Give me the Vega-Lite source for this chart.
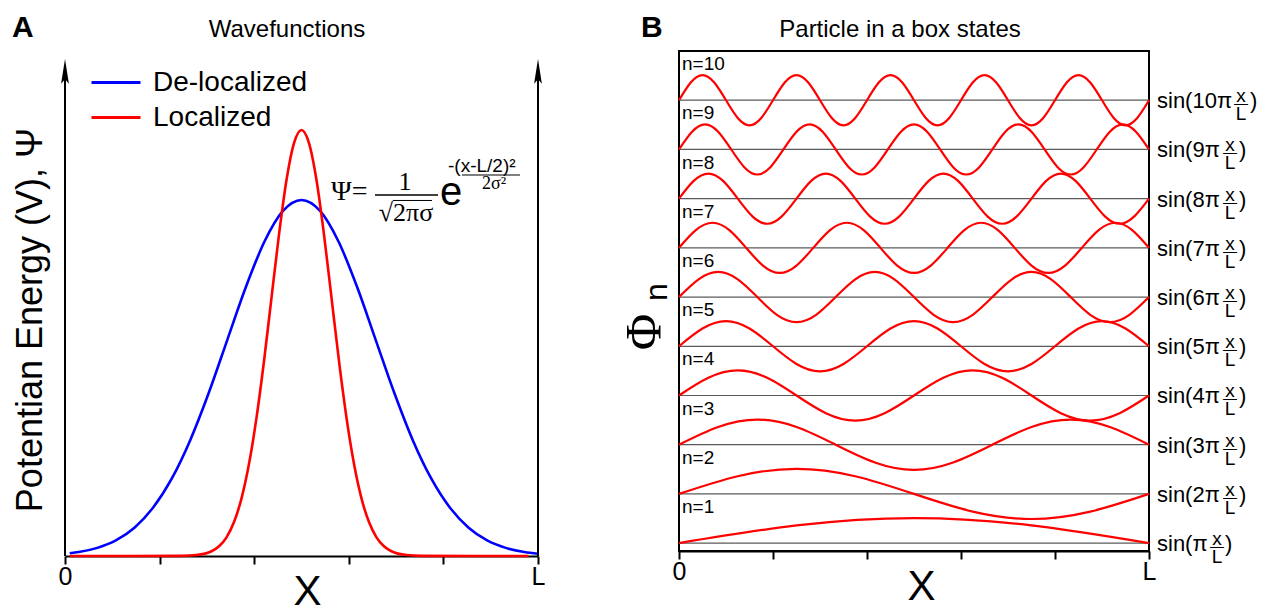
{
"$schema": "https://vega.github.io/schema/vega-lite/v6.json",
"background": "white",
"padding": {"left": 12, "top": 11, "right": 0, "bottom": 0},
"autosize": {"type": "pad"},
"config": {
  "view": {"stroke": null},
  "font": "Liberation Sans",
  "axis": {"grid": false, "domainColor": "black", "tickColor": "black", "labelColor": "black", "titleColor": "black", "labelFont": "Liberation Sans", "titleFont": "Liberation Sans"},
  "text": {"font": "Liberation Sans", "color": "black"}
},
"datasets": {
  "gauss": [
    {"s":"De-localized","x":0.01,"y":0.0054},{"s":"De-localized","x":0.029,"y":0.0078},{"s":"De-localized","x":0.0683,"y":0.0161},{"s":"De-localized","x":0.1075,"y":0.0309},{"s":"De-localized","x":0.1468,"y":0.0561},{"s":"De-localized","x":0.186,"y":0.0954},{"s":"De-localized","x":0.2253,"y":0.1525},{"s":"De-localized","x":0.2645,"y":0.2289},{"s":"De-localized","x":0.3038,"y":0.3227},{"s":"De-localized","x":0.343,"y":0.4276},{"s":"De-localized","x":0.3822,"y":0.5321},{"s":"De-localized","x":0.4215,"y":0.6222},{"s":"De-localized","x":0.4608,"y":0.6833},{"s":"De-localized","x":0.5,"y":0.705},{"s":"De-localized","x":0.5393,"y":0.6833},{"s":"De-localized","x":0.5785,"y":0.6222},{"s":"De-localized","x":0.6178,"y":0.5321},{"s":"De-localized","x":0.657,"y":0.4276},{"s":"De-localized","x":0.6963,"y":0.3227},{"s":"De-localized","x":0.7355,"y":0.2289},{"s":"De-localized","x":0.7748,"y":0.1525},{"s":"De-localized","x":0.814,"y":0.0954},{"s":"De-localized","x":0.8533,"y":0.0561},{"s":"De-localized","x":0.8925,"y":0.0309},{"s":"De-localized","x":0.9318,"y":0.0161},{"s":"De-localized","x":0.971,"y":0.0078},{"s":"De-localized","x":1,"y":0.0044},
    {"s":"Localized","x":0.01,"y":0},{"s":"Localized","x":0.2464,"y":0.0003},{"s":"Localized","x":0.2781,"y":0.0019},{"s":"Localized","x":0.3098,"y":0.0094},{"s":"Localized","x":0.32565,"y":0.0192},{"s":"Localized","x":0.3415,"y":0.037},{"s":"Localized","x":0.35735,"y":0.0672},{"s":"Localized","x":0.3732,"y":0.1141},{"s":"Localized","x":0.38905,"y":0.1825},{"s":"Localized","x":0.4049,"y":0.2739},{"s":"Localized","x":0.42075,"y":0.3862},{"s":"Localized","x":0.4366,"y":0.5117},{"s":"Localized","x":0.45245,"y":0.6367},{"s":"Localized","x":0.4683,"y":0.7445},{"s":"Localized","x":0.48415,"y":0.8176},{"s":"Localized","x":0.5,"y":0.8436},{"s":"Localized","x":0.51585,"y":0.8176},{"s":"Localized","x":0.5317,"y":0.7445},{"s":"Localized","x":0.54755,"y":0.6367},{"s":"Localized","x":0.5634,"y":0.5117},{"s":"Localized","x":0.57925,"y":0.3862},{"s":"Localized","x":0.5951,"y":0.2739},{"s":"Localized","x":0.61095,"y":0.1825},{"s":"Localized","x":0.6268,"y":0.1141},{"s":"Localized","x":0.64265,"y":0.0672},{"s":"Localized","x":0.6585,"y":0.037},{"s":"Localized","x":0.67435,"y":0.0192},{"s":"Localized","x":0.6902,"y":0.0094},{"s":"Localized","x":0.7219,"y":0.0019},{"s":"Localized","x":0.7536,"y":0.0003},{"s":"Localized","x":0.98,"y":0}
  ],
  "labs": [
    {"n":10,"lab":"n=10","s":"sin(10π"},{"n":9,"lab":"n=9","s":"sin(9π"},{"n":8,"lab":"n=8","s":"sin(8π"},{"n":7,"lab":"n=7","s":"sin(7π"},{"n":6,"lab":"n=6","s":"sin(6π"},{"n":5,"lab":"n=5","s":"sin(5π"},{"n":4,"lab":"n=4","s":"sin(4π"},{"n":3,"lab":"n=3","s":"sin(3π"},{"n":2,"lab":"n=2","s":"sin(2π"},{"n":1,"lab":"n=1","s":"sin(π"}
  ],
  "waves": [
    {"n":1,"x":0,"y":1},{"n":1,"x":0.25,"y":1.36},{"n":1,"x":0.5,"y":1.51},{"n":1,"x":0.75,"y":1.36},{"n":1,"x":1,"y":1},
    {"n":2,"x":0,"y":2},{"n":2,"x":0.125,"y":2.36},{"n":2,"x":0.25,"y":2.51},{"n":2,"x":0.375,"y":2.36},{"n":2,"x":0.5,"y":2},{"n":2,"x":0.625,"y":1.64},{"n":2,"x":0.75,"y":1.49},{"n":2,"x":0.875,"y":1.64},{"n":2,"x":1,"y":2},
    {"n":3,"x":0,"y":3},{"n":3,"x":0.0833,"y":3.36},{"n":3,"x":0.1667,"y":3.51},{"n":3,"x":0.25,"y":3.36},{"n":3,"x":0.3333,"y":3},{"n":3,"x":0.4167,"y":2.64},{"n":3,"x":0.5,"y":2.49},{"n":3,"x":0.5833,"y":2.64},{"n":3,"x":0.6667,"y":3},{"n":3,"x":0.75,"y":3.36},{"n":3,"x":0.8333,"y":3.51},{"n":3,"x":0.9167,"y":3.36},{"n":3,"x":1,"y":3},
    {"n":4,"x":0,"y":4},{"n":4,"x":0.0625,"y":4.36},{"n":4,"x":0.125,"y":4.51},{"n":4,"x":0.1875,"y":4.36},{"n":4,"x":0.25,"y":4},{"n":4,"x":0.3125,"y":3.64},{"n":4,"x":0.375,"y":3.49},{"n":4,"x":0.4375,"y":3.64},{"n":4,"x":0.5,"y":4},{"n":4,"x":0.5625,"y":4.36},{"n":4,"x":0.625,"y":4.51},{"n":4,"x":0.6875,"y":4.36},{"n":4,"x":0.75,"y":4},{"n":4,"x":0.8125,"y":3.64},{"n":4,"x":0.875,"y":3.49},{"n":4,"x":0.9375,"y":3.64},{"n":4,"x":1,"y":4},
    {"n":5,"x":0,"y":5},{"n":5,"x":0.05,"y":5.36},{"n":5,"x":0.1,"y":5.51},{"n":5,"x":0.15,"y":5.36},{"n":5,"x":0.2,"y":5},{"n":5,"x":0.25,"y":4.64},{"n":5,"x":0.3,"y":4.49},{"n":5,"x":0.35,"y":4.64},{"n":5,"x":0.4,"y":5},{"n":5,"x":0.45,"y":5.36},{"n":5,"x":0.5,"y":5.51},{"n":5,"x":0.55,"y":5.36},{"n":5,"x":0.6,"y":5},{"n":5,"x":0.65,"y":4.64},{"n":5,"x":0.7,"y":4.49},{"n":5,"x":0.75,"y":4.64},{"n":5,"x":0.8,"y":5},{"n":5,"x":0.85,"y":5.36},{"n":5,"x":0.9,"y":5.51},{"n":5,"x":0.95,"y":5.36},{"n":5,"x":1,"y":5},
    {"n":6,"x":0,"y":6},{"n":6,"x":0.0417,"y":6.36},{"n":6,"x":0.0833,"y":6.51},{"n":6,"x":0.125,"y":6.36},{"n":6,"x":0.1667,"y":6},{"n":6,"x":0.2083,"y":5.64},{"n":6,"x":0.25,"y":5.49},{"n":6,"x":0.2917,"y":5.64},{"n":6,"x":0.3333,"y":6},{"n":6,"x":0.375,"y":6.36},{"n":6,"x":0.4167,"y":6.51},{"n":6,"x":0.4583,"y":6.36},{"n":6,"x":0.5,"y":6},{"n":6,"x":0.5417,"y":5.64},{"n":6,"x":0.5833,"y":5.49},{"n":6,"x":0.625,"y":5.64},{"n":6,"x":0.6667,"y":6},{"n":6,"x":0.7083,"y":6.36},{"n":6,"x":0.75,"y":6.51},{"n":6,"x":0.7917,"y":6.36},{"n":6,"x":0.8333,"y":6},{"n":6,"x":0.875,"y":5.64},{"n":6,"x":0.9167,"y":5.49},{"n":6,"x":0.9583,"y":5.64},{"n":6,"x":1,"y":6},
    {"n":7,"x":0,"y":7},{"n":7,"x":0.0357,"y":7.36},{"n":7,"x":0.0714,"y":7.51},{"n":7,"x":0.1071,"y":7.36},{"n":7,"x":0.1429,"y":7},{"n":7,"x":0.1786,"y":6.64},{"n":7,"x":0.2143,"y":6.49},{"n":7,"x":0.25,"y":6.64},{"n":7,"x":0.2857,"y":7},{"n":7,"x":0.3214,"y":7.36},{"n":7,"x":0.3571,"y":7.51},{"n":7,"x":0.3929,"y":7.36},{"n":7,"x":0.4286,"y":7},{"n":7,"x":0.4643,"y":6.64},{"n":7,"x":0.5,"y":6.49},{"n":7,"x":0.5357,"y":6.64},{"n":7,"x":0.5714,"y":7},{"n":7,"x":0.6071,"y":7.36},{"n":7,"x":0.6429,"y":7.51},{"n":7,"x":0.6786,"y":7.36},{"n":7,"x":0.7143,"y":7},{"n":7,"x":0.75,"y":6.64},{"n":7,"x":0.7857,"y":6.49},{"n":7,"x":0.8214,"y":6.64},{"n":7,"x":0.8571,"y":7},{"n":7,"x":0.8929,"y":7.36},{"n":7,"x":0.9286,"y":7.51},{"n":7,"x":0.9643,"y":7.36},{"n":7,"x":1,"y":7},
    {"n":8,"x":0,"y":8},{"n":8,"x":0.03125,"y":8.36},{"n":8,"x":0.0625,"y":8.51},{"n":8,"x":0.09375,"y":8.36},{"n":8,"x":0.125,"y":8},{"n":8,"x":0.15625,"y":7.64},{"n":8,"x":0.1875,"y":7.49},{"n":8,"x":0.21875,"y":7.64},{"n":8,"x":0.25,"y":8},{"n":8,"x":0.28125,"y":8.36},{"n":8,"x":0.3125,"y":8.51},{"n":8,"x":0.34375,"y":8.36},{"n":8,"x":0.375,"y":8},{"n":8,"x":0.40625,"y":7.64},{"n":8,"x":0.4375,"y":7.49},{"n":8,"x":0.46875,"y":7.64},{"n":8,"x":0.5,"y":8},{"n":8,"x":0.53125,"y":8.36},{"n":8,"x":0.5625,"y":8.51},{"n":8,"x":0.59375,"y":8.36},{"n":8,"x":0.625,"y":8},{"n":8,"x":0.65625,"y":7.64},{"n":8,"x":0.6875,"y":7.49},{"n":8,"x":0.71875,"y":7.64},{"n":8,"x":0.75,"y":8},{"n":8,"x":0.78125,"y":8.36},{"n":8,"x":0.8125,"y":8.51},{"n":8,"x":0.84375,"y":8.36},{"n":8,"x":0.875,"y":8},{"n":8,"x":0.90625,"y":7.64},{"n":8,"x":0.9375,"y":7.49},{"n":8,"x":0.96875,"y":7.64},{"n":8,"x":1,"y":8},
    {"n":9,"x":0,"y":9},{"n":9,"x":0.0278,"y":9.36},{"n":9,"x":0.0556,"y":9.51},{"n":9,"x":0.0833,"y":9.36},{"n":9,"x":0.1111,"y":9},{"n":9,"x":0.1389,"y":8.64},{"n":9,"x":0.1667,"y":8.49},{"n":9,"x":0.1944,"y":8.64},{"n":9,"x":0.2222,"y":9},{"n":9,"x":0.25,"y":9.36},{"n":9,"x":0.2778,"y":9.51},{"n":9,"x":0.3056,"y":9.36},{"n":9,"x":0.3333,"y":9},{"n":9,"x":0.3611,"y":8.64},{"n":9,"x":0.3889,"y":8.49},{"n":9,"x":0.4167,"y":8.64},{"n":9,"x":0.4444,"y":9},{"n":9,"x":0.4722,"y":9.36},{"n":9,"x":0.5,"y":9.51},{"n":9,"x":0.5278,"y":9.36},{"n":9,"x":0.5556,"y":9},{"n":9,"x":0.5833,"y":8.64},{"n":9,"x":0.6111,"y":8.49},{"n":9,"x":0.6389,"y":8.64},{"n":9,"x":0.6667,"y":9},{"n":9,"x":0.6944,"y":9.36},{"n":9,"x":0.7222,"y":9.51},{"n":9,"x":0.75,"y":9.36},{"n":9,"x":0.7778,"y":9},{"n":9,"x":0.8056,"y":8.64},{"n":9,"x":0.8333,"y":8.49},{"n":9,"x":0.8611,"y":8.64},{"n":9,"x":0.8889,"y":9},{"n":9,"x":0.9167,"y":9.36},{"n":9,"x":0.9444,"y":9.51},{"n":9,"x":0.9722,"y":9.36},{"n":9,"x":1,"y":9},
    {"n":10,"x":0,"y":10},{"n":10,"x":0.025,"y":10.36},{"n":10,"x":0.05,"y":10.51},{"n":10,"x":0.075,"y":10.36},{"n":10,"x":0.1,"y":10},{"n":10,"x":0.125,"y":9.64},{"n":10,"x":0.15,"y":9.49},{"n":10,"x":0.175,"y":9.64},{"n":10,"x":0.2,"y":10},{"n":10,"x":0.225,"y":10.36},{"n":10,"x":0.25,"y":10.51},{"n":10,"x":0.275,"y":10.36},{"n":10,"x":0.3,"y":10},{"n":10,"x":0.325,"y":9.64},{"n":10,"x":0.35,"y":9.49},{"n":10,"x":0.375,"y":9.64},{"n":10,"x":0.4,"y":10},{"n":10,"x":0.425,"y":10.36},{"n":10,"x":0.45,"y":10.51},{"n":10,"x":0.475,"y":10.36},{"n":10,"x":0.5,"y":10},{"n":10,"x":0.525,"y":9.64},{"n":10,"x":0.55,"y":9.49},{"n":10,"x":0.575,"y":9.64},{"n":10,"x":0.6,"y":10},{"n":10,"x":0.625,"y":10.36},{"n":10,"x":0.65,"y":10.51},{"n":10,"x":0.675,"y":10.36},{"n":10,"x":0.7,"y":10},{"n":10,"x":0.725,"y":9.64},{"n":10,"x":0.75,"y":9.49},{"n":10,"x":0.775,"y":9.64},{"n":10,"x":0.8,"y":10},{"n":10,"x":0.825,"y":10.36},{"n":10,"x":0.85,"y":10.51},{"n":10,"x":0.875,"y":10.36},{"n":10,"x":0.9,"y":10},{"n":10,"x":0.925,"y":9.64},{"n":10,"x":0.95,"y":9.49},{"n":10,"x":0.975,"y":9.64},{"n":10,"x":1,"y":10}
  ]
},
"bounds": "flush",
"spacing": 141,
"hconcat": [
  {
    "width": 473,
    "height": 505,
    "resolve": {"axis": {"x": "independent", "y": "independent"}},
    "layer": [
      {
        "data": {"name": "gauss"},
        "mark": {"type": "line", "interpolate": "monotone", "strokeWidth": 2.6},
        "encoding": {
          "x": {"field": "x", "type": "quantitative", "scale": {"domain": [0, 1], "nice": false, "zero": false},
                "axis": {"orient": "bottom", "values": [0, 0.2, 0.4, 0.6, 0.8, 1], "labelExpr": "datum.value == 0 ? '0' : datum.value == 1 ? 'L' : ''", "labelOverlap": false, "labelFlush": false, "domainWidth": 2, "tickWidth": 2, "tickSize": 8, "labelFontSize": 25, "labelPadding": 0, "title": "X", "titleFontSize": 42, "titleFontWeight": "normal", "titlePadding": -18, "titleX": 242}},
          "y": {"field": "y", "type": "quantitative", "scale": {"domain": [0, 1], "nice": false, "zero": false}, "axis": null},
          "color": {"field": "s", "type": "nominal", "scale": {"domain": ["De-localized", "Localized"], "range": ["#0000ff", "#ff0000"]},
                    "legend": {"title": null, "orient": "none", "legendX": 25, "legendY": 14, "padding": 0, "labelFont": "Liberation Sans", "labelFontSize": 28, "labelColor": "black", "symbolType": "M-1,0L1,0", "symbolSize": 2401, "symbolStrokeWidth": 3, "symbolFillColor": "transparent", "rowPadding": 0, "clipHeight": 35, "labelOffset": 11}}
        }
      },
      {
        "data": {"values": [{"e": 0}, {"e": 1}]},
        "mark": {"type": "rule", "color": "black", "strokeWidth": 2},
        "encoding": {
          "x": {"field": "e", "type": "quantitative", "axis": null},
          "y": {"datum": 0, "axis": null},
          "y2": {"datum": 0.955}
        }
      },
      {
        "data": {"values": [{"e": 0}, {"e": 1}]},
        "mark": {"type": "point", "shape": "M0,-1L0.3,0.9L0,0.55L-0.3,0.9Z", "size": 676, "filled": true, "color": "black", "opacity": 1},
        "encoding": {
          "x": {"field": "e", "type": "quantitative", "axis": null},
          "y": {"datum": 0.9584, "axis": null}
        }
      },
      {
        "data": {"values": [{}]},
        "mark": {"type": "text", "text": "Wavefunctions", "fontSize": 24, "align": "center", "baseline": "alphabetic"},
        "encoding": {"x": {"datum": 0.4693, "axis": null}, "y": {"datum": 1.0277, "axis": null}}
      },
      {
        "data": {"values": [{}]},
        "mark": {"type": "text", "text": "A", "fontSize": 30, "fontWeight": "bold", "align": "left", "baseline": "alphabetic"},
        "encoding": {"x": {"datum": -0.112, "axis": null}, "y": {"datum": 1.0277, "axis": null}}
      },
      {
        "data": {"values": [{}]},
        "mark": {"type": "text", "text": "Potentian Energy (V), Ψ", "fontSize": 36, "angle": 270, "align": "center", "baseline": "middle"},
        "encoding": {"x": {"datum": -0.0719, "axis": null}, "y": {"datum": 0.4673, "axis": null}}
      },
      {
        "data": {"values": [{}]},
        "mark": {"type": "text", "text": "Ψ=", "font": "Liberation Serif", "fontSize": 28, "align": "left", "baseline": "alphabetic"},
        "encoding": {"x": {"datum": 0.5624, "axis": null}, "y": {"datum": 0.705, "axis": null}}
      },
      {
        "data": {"values": [{}]},
        "mark": {"type": "text", "text": "1", "font": "Liberation Serif", "fontSize": 26, "align": "center", "baseline": "alphabetic"},
        "encoding": {"x": {"datum": 0.7188, "axis": null}, "y": {"datum": 0.7248, "axis": null}}
      },
      {
        "data": {"values": [{}]},
        "mark": {"type": "rule", "color": "black", "strokeWidth": 1.5},
        "encoding": {"x": {"datum": 0.6554, "axis": null}, "x2": {"datum": 0.7886}, "y": {"datum": 0.7149, "axis": null}}
      },
      {
        "data": {"values": [{}]},
        "mark": {"type": "text", "text": "√2πσ", "font": "Liberation Serif", "fontSize": 26, "align": "center", "baseline": "alphabetic"},
        "encoding": {"x": {"datum": 0.721, "axis": null}, "y": {"datum": 0.663, "axis": null}}
      },
      {
        "data": {"values": [{}]},
        "mark": {"type": "rule", "color": "black", "strokeWidth": 1},
        "encoding": {"x": {"datum": 0.6934, "axis": null}, "x2": {"datum": 0.7759}, "y": {"datum": 0.704, "axis": null}}
      },
      {
        "data": {"values": [{}]},
        "mark": {"type": "text", "text": "e", "fontSize": 40, "align": "left", "baseline": "alphabetic"},
        "encoding": {"x": {"datum": 0.7928, "axis": null}, "y": {"datum": 0.695, "axis": null}}
      },
      {
        "data": {"values": [{}]},
        "mark": {"type": "text", "text": "-(x-L/2)²", "fontSize": 19, "align": "left", "baseline": "alphabetic"},
        "encoding": {"x": {"datum": 0.8097, "axis": null}, "y": {"datum": 0.7604, "axis": null}}
      },
      {
        "data": {"values": [{}]},
        "mark": {"type": "rule", "color": "black", "strokeWidth": 1.2},
        "encoding": {"x": {"datum": 0.8393, "axis": null}, "x2": {"datum": 0.9619}, "y": {"datum": 0.7545, "axis": null}}
      },
      {
        "data": {"values": [{}]},
        "mark": {"type": "text", "text": "2σ²", "font": "Liberation Serif", "fontSize": 18, "align": "center", "baseline": "alphabetic"},
        "encoding": {"x": {"datum": 0.907, "axis": null}, "y": {"datum": 0.7267, "axis": null}}
      }
    ]
  },
  {
    "width": 470,
    "height": 500,
    "view": {"stroke": "black", "strokeWidth": 2},
    "resolve": {"axis": {"x": "independent", "y": "independent"}},
    "layer": [
      {
        "data": {"name": "waves"},
        "mark": {"type": "line", "interpolate": "natural", "color": "#ff0000", "strokeWidth": 2.2, "opacity": 0},
        "encoding": {
          "x": {"field": "x", "type": "quantitative", "scale": {"domain": [0, 1], "nice": false, "zero": false},
                "axis": {"orient": "bottom", "values": [0, 0.2, 0.4, 0.6, 0.8, 1], "labelExpr": "datum.value == 0 ? '0' : datum.value == 1 ? 'L' : ''", "labelOverlap": false, "labelFlush": false, "domainWidth": 2, "tickWidth": 2, "tickSize": 8, "labelFontSize": 25, "labelPadding": 0, "title": "X", "titleFontSize": 42, "titleFontWeight": "normal", "titlePadding": -18, "titleX": 242}},
          "y": {"field": "y", "type": "quantitative", "scale": {"domain": [0.84, 11], "nice": false, "zero": false}, "axis": null},
          "detail": {"field": "n", "type": "nominal"}
        }
      },
      {
        "data": {"name": "labs"},
        "mark": {"type": "rule", "color": "#5a5a5a", "strokeWidth": 1.2},
        "encoding": {
          "y": {"field": "n", "type": "quantitative", "axis": null},
          "x": {"datum": 0, "axis": null},
          "x2": {"datum": 1}
        }
      },
      {
        "data": {"name": "waves"},
        "mark": {"type": "line", "interpolate": "natural", "color": "#ff0000", "strokeWidth": 2.2},
        "encoding": {
          "x": {"field": "x", "type": "quantitative", "axis": null},
          "y": {"field": "y", "type": "quantitative", "axis": null},
          "detail": {"field": "n", "type": "nominal"}
        }
      },
      {
        "data": {"name": "labs"},
        "mark": {"type": "text", "align": "left", "baseline": "middle", "dx": 3, "dy": -36, "fontSize": 19},
        "encoding": {"x": {"datum": 0, "axis": null}, "y": {"field": "n", "type": "quantitative", "axis": null}, "text": {"field": "lab"}}
      },
      {
        "data": {"name": "labs"},
        "mark": {"type": "text", "align": "left", "baseline": "alphabetic", "dx": 8, "dy": 8, "fontSize": 22},
        "encoding": {"x": {"datum": 1, "axis": null}, "y": {"field": "n", "type": "quantitative", "axis": null}, "text": {"field": "s"}}
      },
      {"data": {"name": "labs"}, "transform": [{"filter": "datum.n == 10"}], "mark": {"type": "text", "text": "x", "dx": 92, "dy": 2, "fontSize": 19, "align": "center", "baseline": "alphabetic"}, "encoding": {"x": {"datum": 1, "axis": null}, "y": {"field": "n", "type": "quantitative", "axis": null}}},
      {"data": {"name": "labs"}, "transform": [{"filter": "datum.n == 10"}], "mark": {"type": "text", "text": "—", "dx": 92, "dy": 8, "fontSize": 14, "align": "center", "baseline": "alphabetic"}, "encoding": {"x": {"datum": 1, "axis": null}, "y": {"field": "n", "type": "quantitative", "axis": null}}},
      {"data": {"name": "labs"}, "transform": [{"filter": "datum.n == 10"}], "mark": {"type": "text", "text": "L", "dx": 92, "dy": 20, "fontSize": 19, "align": "center", "baseline": "alphabetic"}, "encoding": {"x": {"datum": 1, "axis": null}, "y": {"field": "n", "type": "quantitative", "axis": null}}},
      {"data": {"name": "labs"}, "transform": [{"filter": "datum.n == 10"}], "mark": {"type": "text", "text": ")", "dx": 101, "dy": 8, "fontSize": 22, "align": "left", "baseline": "alphabetic"}, "encoding": {"x": {"datum": 1, "axis": null}, "y": {"field": "n", "type": "quantitative", "axis": null}}},
      {"data": {"name": "labs"}, "transform": [{"filter": "datum.n > 1 && datum.n < 10"}], "mark": {"type": "text", "text": "x", "dx": 81, "dy": 2, "fontSize": 19, "align": "center", "baseline": "alphabetic"}, "encoding": {"x": {"datum": 1, "axis": null}, "y": {"field": "n", "type": "quantitative", "axis": null}}},
      {"data": {"name": "labs"}, "transform": [{"filter": "datum.n > 1 && datum.n < 10"}], "mark": {"type": "text", "text": "—", "dx": 81, "dy": 8, "fontSize": 14, "align": "center", "baseline": "alphabetic"}, "encoding": {"x": {"datum": 1, "axis": null}, "y": {"field": "n", "type": "quantitative", "axis": null}}},
      {"data": {"name": "labs"}, "transform": [{"filter": "datum.n > 1 && datum.n < 10"}], "mark": {"type": "text", "text": "L", "dx": 81, "dy": 20, "fontSize": 19, "align": "center", "baseline": "alphabetic"}, "encoding": {"x": {"datum": 1, "axis": null}, "y": {"field": "n", "type": "quantitative", "axis": null}}},
      {"data": {"name": "labs"}, "transform": [{"filter": "datum.n > 1 && datum.n < 10"}], "mark": {"type": "text", "text": ")", "dx": 90, "dy": 8, "fontSize": 22, "align": "left", "baseline": "alphabetic"}, "encoding": {"x": {"datum": 1, "axis": null}, "y": {"field": "n", "type": "quantitative", "axis": null}}},
      {"data": {"name": "labs"}, "transform": [{"filter": "datum.n == 1"}], "mark": {"type": "text", "text": "x", "dx": 68, "dy": 2, "fontSize": 19, "align": "center", "baseline": "alphabetic"}, "encoding": {"x": {"datum": 1, "axis": null}, "y": {"field": "n", "type": "quantitative", "axis": null}}},
      {"data": {"name": "labs"}, "transform": [{"filter": "datum.n == 1"}], "mark": {"type": "text", "text": "—", "dx": 68, "dy": 8, "fontSize": 14, "align": "center", "baseline": "alphabetic"}, "encoding": {"x": {"datum": 1, "axis": null}, "y": {"field": "n", "type": "quantitative", "axis": null}}},
      {"data": {"name": "labs"}, "transform": [{"filter": "datum.n == 1"}], "mark": {"type": "text", "text": "L", "dx": 68, "dy": 20, "fontSize": 19, "align": "center", "baseline": "alphabetic"}, "encoding": {"x": {"datum": 1, "axis": null}, "y": {"field": "n", "type": "quantitative", "axis": null}}},
      {"data": {"name": "labs"}, "transform": [{"filter": "datum.n == 1"}], "mark": {"type": "text", "text": ")", "dx": 76, "dy": 8, "fontSize": 22, "align": "left", "baseline": "alphabetic"}, "encoding": {"x": {"datum": 1, "axis": null}, "y": {"field": "n", "type": "quantitative", "axis": null}}},
      {
        "data": {"values": [{}]},
        "mark": {"type": "text", "text": "Particle in a box states", "fontSize": 24, "align": "center", "baseline": "alphabetic"},
        "encoding": {"x": {"datum": 0.4702, "axis": null}, "y": {"datum": 11.287, "axis": null}}
      },
      {
        "data": {"values": [{}]},
        "mark": {"type": "text", "text": "B", "fontSize": 30, "fontWeight": "bold", "align": "left", "baseline": "alphabetic"},
        "encoding": {"x": {"datum": -0.0809, "axis": null}, "y": {"datum": 11.287, "axis": null}}
      },
      {
        "data": {"values": [{}]},
        "mark": {"type": "text", "text": "Φ", "font": "Liberation Serif", "fontSize": 50, "angle": 270, "align": "center", "baseline": "middle"},
        "encoding": {"x": {"datum": -0.0723, "axis": null}, "y": {"datum": 5.291, "axis": null}}
      },
      {
        "data": {"values": [{}]},
        "mark": {"type": "text", "text": "n", "fontSize": 32, "angle": 270, "align": "center", "baseline": "middle"},
        "encoding": {"x": {"datum": -0.0468, "axis": null}, "y": {"datum": 6.1, "axis": null}}
      }
    ]
  }
]
}
